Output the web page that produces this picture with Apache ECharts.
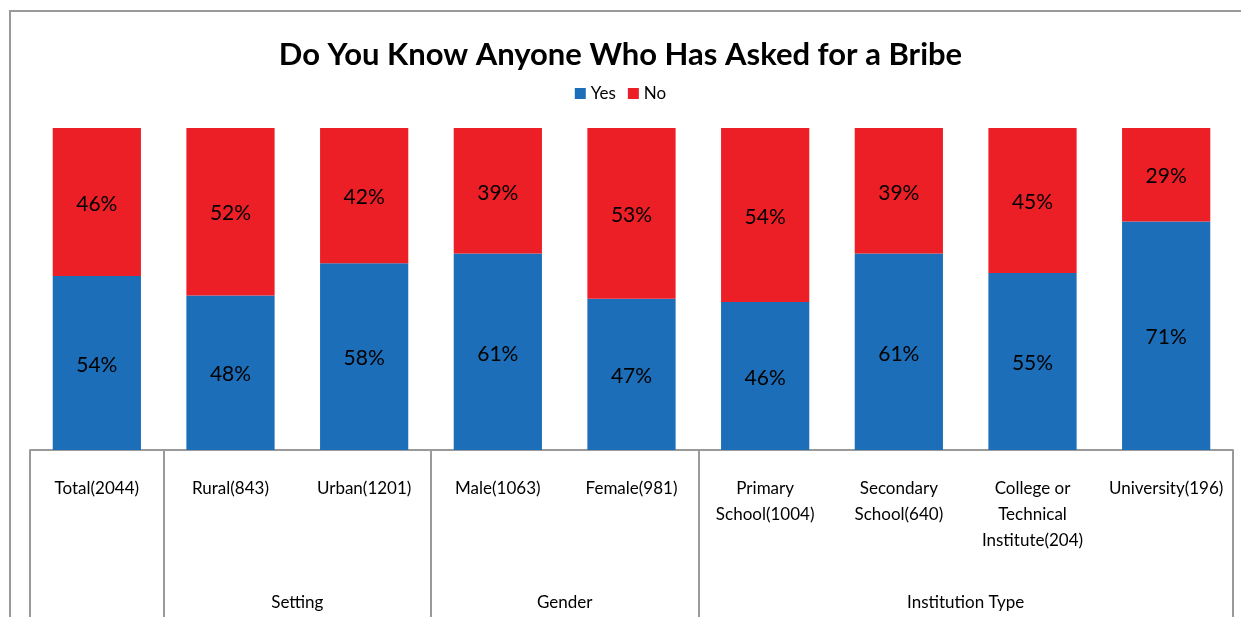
<!DOCTYPE html>
<html>
<head>
<meta charset="utf-8">
<script src="https://cdn.jsdelivr.net/npm/echarts@6/dist/echarts.min.js"></script>
<style>
  html, body { margin: 0; padding: 0; background: #fff; }
  #chart { width: 1241px; height: 617px; }
</style>
</head>
<body>
<div id="chart"></div>
<script>
// Survey breakdown: share of respondents who know someone who asked for a bribe
const categories = ['Total(2044)', 'Rural(843)', 'Urban(1201)', 'Male(1063)', 'Female(981)',
  'Primary\nSchool(1004)', 'Secondary\nSchool(640)', 'College or\nTechnical\nInstitute(204)', 'University(196)'];
const yesValues = [54, 48, 58, 61, 47, 46, 61, 55, 71];
const noValues = [46, 52, 42, 39, 53, 54, 39, 45, 29];
// Group headings, centred on the category boundary given in groupCenters
const groupNames = ['Setting', 'Gender', 'Institution Type'];
const groupCenters = [2, 4, 7];
// Category boundaries where group divider lines are drawn
const groupDividers = [0, 1, 3, 5, 9];

const FONT = 'Lato, "Liberation Sans", sans-serif';

const chart = echarts.init(document.getElementById('chart'));
chart.setOption({
  animation: false,
  title: {
    text: 'Do You Know Anyone Who Has Asked for a Bribe',
    left: 'center',
    top: 34,
    textStyle: { fontFamily: FONT, fontSize: 31, fontWeight: 'bold', color: '#000' }
  },
  legend: {
    data: ['Yes', 'No'],
    top: 80,
    left: 'center',
    itemWidth: 11,
    itemHeight: 11,
    itemGap: 12,
    icon: 'rect',
    textStyle: { fontFamily: FONT, fontSize: 17, color: '#000' }
  },
  graphic: [{
    type: 'rect',
    shape: { x: 10, y: 11, width: 1250, height: 700 },
    style: { fill: 'none', stroke: '#9a9a9a', lineWidth: 2 },
    silent: true
  }],
  grid: { left: 30, right: 8, top: 128, bottom: 167 },
  xAxis: [{
    type: 'category',
    data: categories,
    axisLine: { show: true, lineStyle: { color: '#9a9a9a', width: 2 } },
    axisTick: { show: false },
    axisLabel: {
      interval: 0, margin: 26, lineHeight: 26, verticalAlign: 'top',
      fontFamily: FONT, fontSize: 17, color: '#000'
    }
  }, {
    type: 'value',
    min: 0,
    max: 9,
    position: 'bottom',
    axisLine: { show: false },
    splitLine: { show: false },
    axisTick: {
      show: true, customValues: groupDividers, length: 170, inside: false,
      lineStyle: { color: '#9a9a9a', width: 2 }
    },
    axisLabel: {
      customValues: groupCenters,
      formatter: function (v) { return groupNames[groupCenters.indexOf(v)] || ''; },
      margin: 144, verticalAlign: 'top',
      fontFamily: FONT, fontSize: 17, color: '#000'
    }
  }],
  yAxis: { type: 'value', min: 0, max: 100, show: false, splitLine: { show: false } },
  series: [{
    name: 'Yes',
    type: 'bar',
    stack: 'total',
    barWidth: '66%',
    data: yesValues,
    itemStyle: { color: '#1c6eb9' },
    label: {
      show: true, position: 'inside', formatter: '{c}%', offset: [0, 2],
      fontFamily: FONT, fontSize: 21, color: '#000'
    }
  }, {
    name: 'No',
    type: 'bar',
    stack: 'total',
    barWidth: '66%',
    data: noValues,
    itemStyle: { color: '#ec1f26' },
    label: {
      show: true, position: 'inside', formatter: '{c}%', offset: [0, 2],
      fontFamily: FONT, fontSize: 21, color: '#000'
    }
  }]
});
</script>
</body>
</html>
